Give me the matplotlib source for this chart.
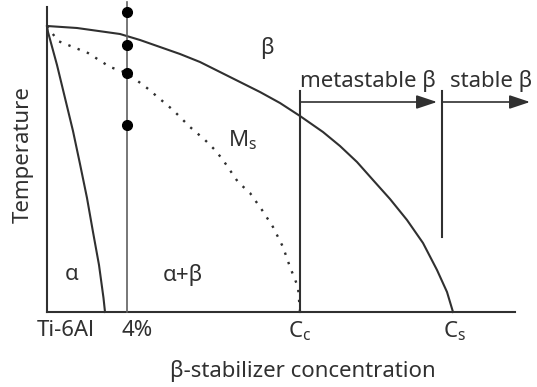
import matplotlib
matplotlib.use("Agg")
import matplotlib.pyplot as plt

# schematic data, x = beta-stabilizer concentration, y = temperature (arbitrary units)
beta_transus_x = [0, 30, 73, 93, 113, 133, 153, 173, 193, 213, 233, 253,
                  276, 293, 310, 326, 343, 360, 376, 390, 400, 406]
beta_transus_y = [286, 284, 278, 272, 265, 258, 250, 240, 230, 220, 209, 196,
                  180, 166, 150, 132, 113, 92, 69, 42, 20, 0]

ms_x = [0, 11, 41, 63, 80, 100, 126, 143, 158, 168, 176, 191, 203, 215, 226, 236, 243, 251, 253]
ms_y = [286, 271, 259, 245, 239, 224, 202, 185, 172, 162, 152, 130, 119, 102, 85, 65, 45, 25, 0]

alpha_x = [0, 1, 10, 18, 26, 33, 40, 46, 52, 56.5, 58]
alpha_y = [286, 280, 247, 214, 181, 148, 114, 80, 47, 14, 0]

x_4pct = 80
x_cc = 253
x_cs = 395
dots_y = [300, 267, 239, 187]

tick_pos = [19, 90, 253, 408]
tick_labels = ["Ti-6Al", "4%", "C$_\\mathregular{c}$", "C$_\\mathregular{s}$"]

plt.rcParams['font.family'] = ['Noto Sans', 'DejaVu Sans']
col = "#303030"
lw = 1.5

fig = plt.figure(figsize=(5.37, 3.87), dpi=100)
ax = fig.add_axes([0, 0, 1, 1])
ax.set_xlim(-47, 490)
ax.set_ylim(-75, 312)
ax.axis("off")

# axes
ax.plot([0, 0], [0, 305], color=col, lw=lw)
ax.plot([0, 468], [0, 0], color=col, lw=lw)

# phase boundaries
ax.plot(beta_transus_x, beta_transus_y, color=col, lw=lw)
ax.plot(alpha_x, alpha_y, color=col, lw=lw)
ax.plot(ms_x, ms_y, color=col, lw=1.7, linestyle=(0, (1, 3.2)))

# composition lines
ax.plot([x_4pct, x_4pct], [0, 310], color="#606060", lw=1.2)
ax.plot([x_cc, x_cc], [0, 221], color=col, lw=lw)
ax.plot([x_cs, x_cs], [75, 221], color=col, lw=lw)
ax.plot([x_4pct] * len(dots_y), dots_y, "o", color="black", ms=7)

# arrows
arrow = dict(arrowstyle="-|>,head_length=0.9,head_width=0.3", color=col, lw=1.2,
             shrinkA=0, shrinkB=0, mutation_scale=14)
ax.annotate("", xy=(390, 210), xytext=(x_cc, 210), arrowprops=arrow)
ax.annotate("", xy=(483, 210), xytext=(x_cs, 210), arrowprops=arrow)

fs = 16
ax.text(220, 264, "β", fontsize=fs, ha="center", va="center", color=col)
ax.text(253, 231, "metastable β", fontsize=fs, ha="left", va="center", color=col)
ax.text(403, 231, "stable β", fontsize=fs, ha="left", va="center", color=col)
ax.text(196, 172, "M$_\\mathregular{s}$", fontsize=fs, ha="center", va="center", color=col)
ax.text(25, 37, "α", fontsize=fs, ha="center", va="center", color=col)
ax.text(136, 37, "α+β", fontsize=fs, ha="center", va="center", color=col)

for p, t in zip(tick_pos, tick_labels):
    ax.text(p, -19, t, fontsize=fs, ha="center", va="center", color=col)

ax.text(256, -59, "β-stabilizer concentration", fontsize=fs, ha="center", va="center", color=col)
ax.text(-24, 157, "Temperature", fontsize=fs, ha="center", va="center", rotation=90, color=col)

fig.savefig("out.png", dpi=100)
